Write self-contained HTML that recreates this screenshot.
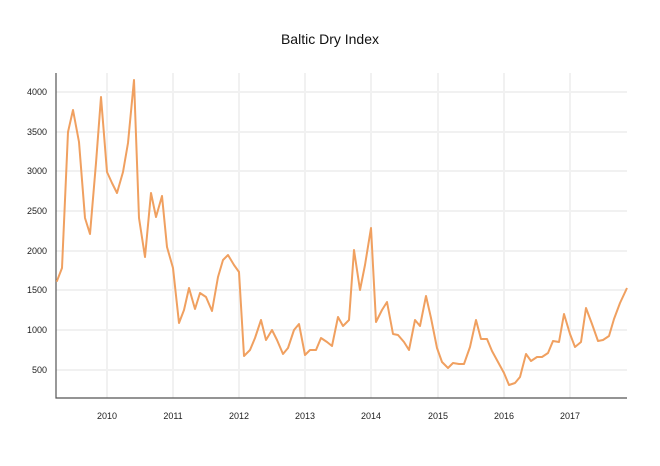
<!DOCTYPE html>
<html><head><meta charset="utf-8"><style>body{margin:0;background:#fff;}svg{display:block;font-family:"Liberation Sans",sans-serif;}</style></head>
<body>
<svg width="660" height="466" viewBox="0 0 660 466">
<text x="330" y="44" text-anchor="middle" font-size="14" fill="#111">Baltic Dry Index</text>
<g stroke="#f1f1f1" stroke-width="2">
<line x1="56" x2="627" y1="92" y2="92"/><line x1="56" x2="627" y1="132" y2="132"/><line x1="56" x2="627" y1="171" y2="171"/><line x1="56" x2="627" y1="211" y2="211"/><line x1="56" x2="627" y1="251" y2="251"/><line x1="56" x2="627" y1="290" y2="290"/><line x1="56" x2="627" y1="330" y2="330"/><line x1="56" x2="627" y1="370" y2="370"/>
<line x1="107" x2="107" y1="73" y2="398"/><line x1="173" x2="173" y1="73" y2="398"/><line x1="239" x2="239" y1="73" y2="398"/><line x1="305" x2="305" y1="73" y2="398"/><line x1="371" x2="371" y1="73" y2="398"/><line x1="438" x2="438" y1="73" y2="398"/><line x1="504" x2="504" y1="73" y2="398"/><line x1="570" x2="570" y1="73" y2="398"/>
</g>
<path d="M56,73V398H627" fill="none" stroke="#555" stroke-width="1.2"/>
<g font-size="9" fill="#222" text-anchor="end">
<text x="47" y="95">4000</text><text x="47" y="135">3500</text><text x="47" y="174">3000</text><text x="47" y="214">2500</text><text x="47" y="254">2000</text><text x="47" y="293">1500</text><text x="47" y="333">1000</text><text x="47" y="373">500</text>
</g>
<g font-size="9" fill="#222" text-anchor="middle">
<text x="107" y="419">2010</text><text x="173" y="419">2011</text><text x="239" y="419">2012</text><text x="305" y="419">2013</text><text x="371" y="419">2014</text><text x="438" y="419">2015</text><text x="504" y="419">2016</text><text x="570" y="419">2017</text>
</g>
<polyline fill="none" stroke="#f0a060" stroke-width="2" stroke-linejoin="round" points="56.7,281.7 62,268 68,132 73,110 79,142 85,218 90,234 96,163 101,97 107,172 112,183 117,193 123,172 128,143 134,80 139,218 145,257 151,193 156,217 162,196 167,247 173,268 179,323 184,310 189,288 195,309 200,293 206,297 212,311 218,277 223,260 228,255 234,265 239,272 244,356 250,350 255,338 261,320 266,340 272,330 277,340 283,354 288,348 294,330 299,324 305,355 310,350 316,350 321,338 327,342 332,346 338,317 343,326 349,320 354,250 360,290 365,265 371,228 376,322 382,310 387,302 393,334 398,335 404,342 409,350 415,320 420,326 426,296 431,318 437,348 442,362 448,368 453,363 459,364 464,364 470,347 476,320 481,339 487,339 492,351 498,362 504,373 509,385 515,383 520,377 526,354 531,361 537,357 542,357 548,353 553,341 559,342 564,314 570,334 575,347 581,342 586,308 592,324 598,341 603,340 609,336 614,319 620,303 627,288"/>
</svg>
</body></html>
